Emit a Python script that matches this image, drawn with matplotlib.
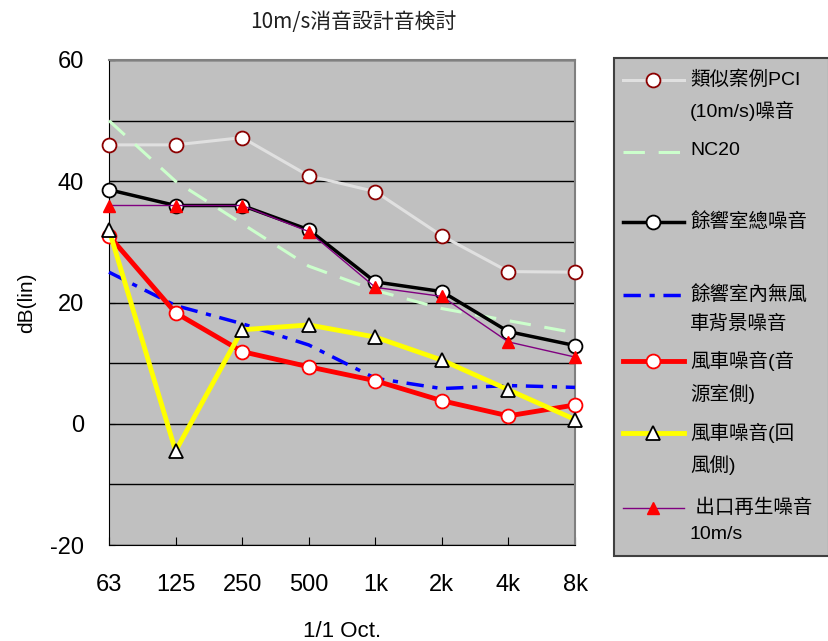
import matplotlib
matplotlib.use('Agg')
import matplotlib.pyplot as plt
from matplotlib.lines import Line2D
from matplotlib.patches import Rectangle

plt.rcParams['font.family'] = ['Liberation Sans', 'Noto Sans CJK TC', 'DejaVu Sans']
plt.rcParams['axes.unicode_minus'] = False

### Data
bands = ['63', '125', '250', '500', '1k', '2k', '4k', '8k']
pci = [46, 46, 47.2, 40.9, 38.3, 31, 25.1, 25]
nc20 = [50, 40, 33, 26, 22, 19, 17, 15]
total = [38.6, 36, 36, 32, 23.4, 21.8, 15.2, 12.9]
background = [25, 19.5, 16.5, 13, 7.5, 5.8, 6.3, 6]
fan_src = [31, 18.3, 11.9, 9.4, 7.1, 3.8, 1.3, 3.1]
fan_ret = [32, -4.5, 15.5, 16.3, 14.3, 10.5, 5.6, 0.7]
outlet = [36, 36, 36, 31.7, 22.5, 21, 13.5, 11]

labels = ['類似案例PCI\n(10m/s)噪音', 'NC20', '餘響室總噪音', '餘響室內無風\n車背景噪音',
          '風車噪音(音\n源室側)', '風車噪音(回\n風側)', ' 出口再生噪音\n10m/s']

fig = plt.figure(figsize=(8.29, 6.41), dpi=100)
ax = fig.add_axes([109/829, 1-545/641, (575-109)/829, (545-60)/641])
ax.set_facecolor('#C0C0C0')
x = list(range(len(bands)))

styles = [
    dict(color='#E0E0E0', lw=2.2, marker='o', ms=10, mfc='white', mec='#8B0000', mew=1.3),
    dict(color='#CCFFCC', lw=2.2, dashes=(7, 4.5)),
    dict(color='black', lw=2.5, marker='o', ms=10, mfc='white', mec='black', mew=1.3),
    dict(color='#0000FF', lw=2.5, dashes=(5, 2.5, 1.5, 2.5)),
    dict(color='#FF0000', lw=3.5, marker='o', ms=10, mfc='white', mec='#FF0000', mew=1.3),
    dict(color='#FFFF00', lw=3.5, marker='^', ms=10, mfc='white', mec='black', mew=1.3),
    dict(color='#800080', lw=1, marker='^', ms=9, mfc='#FF0000', mec='#FF0000', mew=1),
]
series = [pci, nc20, total, background, fan_src, fan_ret, outlet]
order = [1, 3, 4, 5, 0, 2, 6]
for i in order:
    ax.plot(x, series[i], zorder=3 + i * 0.1, clip_on=False, **styles[i])

ax.set_xlim(0, len(bands) - 1)
ax.set_ylim(-20, 60)
ax.set_yticks(range(-20, 61, 20))
ax.set_yticks(range(-10, 60, 20), minor=True)
ax.yaxis.grid(True, which='both', color='black', lw=1)
ax.set_axisbelow(True)
ax.set_xticks(x)
ax.set_xticklabels(bands)
ax.tick_params(axis='x', labelsize=17, pad=21, length=6, direction='in')
ax.tick_params(axis='y', labelsize=17, pad=18, length=4, direction='in')
ax.tick_params(axis='y', which='minor', length=4, direction='in')
for s in ['top', 'right']:
    ax.spines[s].set_color('#808080')
    ax.spines[s].set_linewidth(1.5)
ax.spines['left'].set_color('black')
ax.spines['bottom'].set_color('black')

ax.set_xlabel('1/1 Oct.', fontsize=16, labelpad=18)
ax.set_ylabel('dB(lin)', fontsize=15, labelpad=10)
fig.text(353/829, 1-22/641, '10m/s消音設計音検討', ha='center', va='center', fontsize=15,
         color='#202020', family=['Noto Sans CJK JP', 'DejaVu Sans'])

# legend drawn by hand to keep the uneven spacing of the original
fig.patches.append(Rectangle((614/829, 1-556/641), (829-614)/829, (556-58)/641,
                             transform=fig.transFigure, facecolor='#C0C0C0',
                             edgecolor='#404040', lw=1.5, zorder=0))
rows = [80, 152, 222, 295, 361, 433, 508]
for i, yy in enumerate(rows):
    yf = 1 - yy / 641
    h = Line2D([623/829, 653/829, 684/829], [yf, yf, yf], transform=fig.transFigure,
               markevery=[1], **styles[i])
    fig.lines.append(h)
    fig.text(690/829, yf + 0.015, labels[i], ha='left', va='top', fontsize=14,
             linespacing=1.75)

fig.savefig('out.png', dpi=100)
